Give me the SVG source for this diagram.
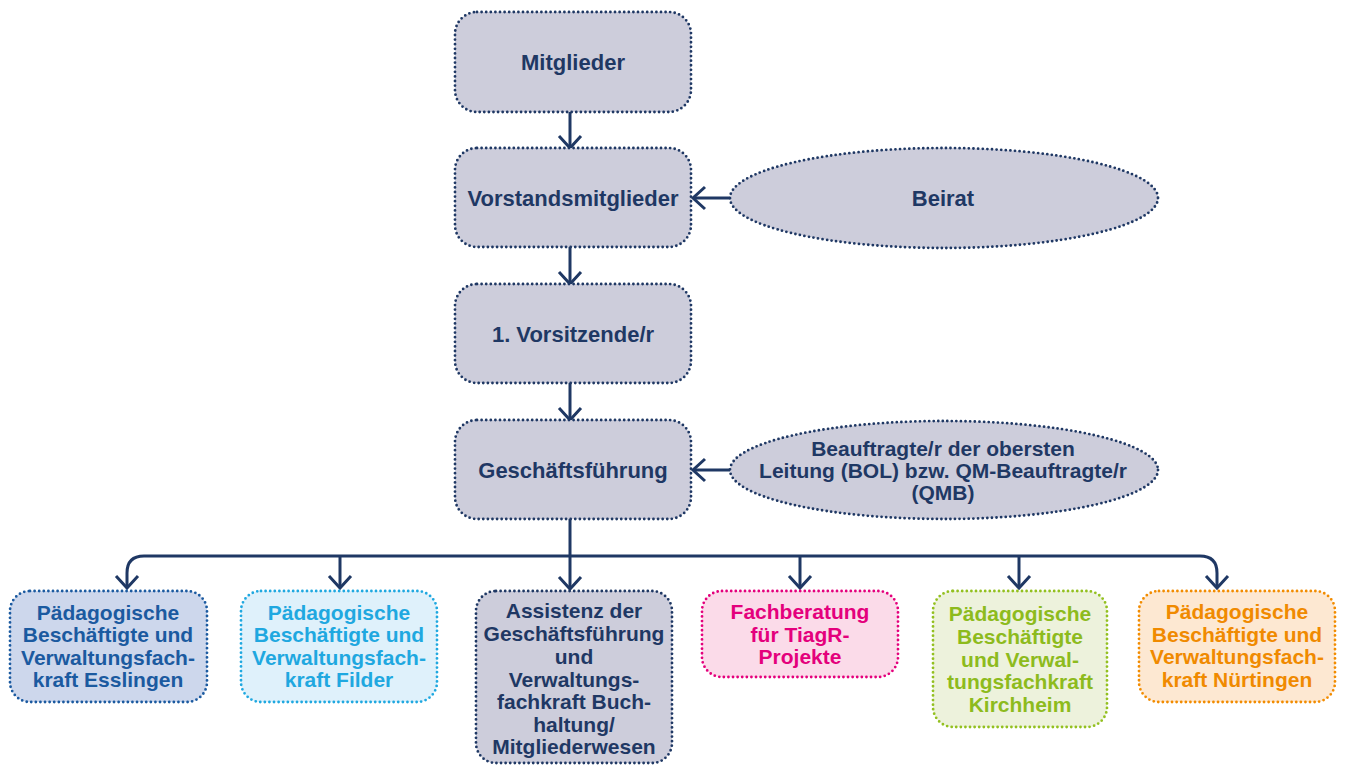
<svg xmlns="http://www.w3.org/2000/svg" width="1347" height="765" viewBox="0 0 1347 765">
<style>
text{font-family:"Liberation Sans",Arial,sans-serif;font-weight:bold;font-size:21px;text-anchor:middle}
.dot{stroke-width:2.8;stroke-dasharray:0 4.6;stroke-linecap:round}
.top{fill:#cdcddb;stroke:#1f3864}
.top-t{fill:#1f3864}
.big{font-size:22px}
.conn{fill:none;stroke:#1f3864;stroke-width:3}
</style>
<defs>
<marker id="arr" markerUnits="userSpaceOnUse" viewBox="-15 -15 30 30" markerWidth="30" markerHeight="30" refX="0" refY="0" orient="auto" overflow="visible">
<path d="M-12,-11 L0,0 L-12,11" fill="none" stroke="#1f3864" stroke-width="3" stroke-linejoin="miter"/>
</marker>
</defs>
<g id="connectors" class="conn">
<path d="M570,112 V148" marker-end="url(#arr)"/>
<path d="M570,247 V284" marker-end="url(#arr)"/>
<path d="M570,383 V420" marker-end="url(#arr)"/>
<path d="M730,198 H693" marker-end="url(#arr)"/>
<path d="M730,470 H693" marker-end="url(#arr)"/>
<path d="M570,519 V589" marker-end="url(#arr)"/>
<path d="M570,556 H144 Q127,556 127,573 V588" marker-end="url(#arr)"/>
<path d="M570,556 H1200 Q1217,556 1217,573 V588" marker-end="url(#arr)"/>
<path d="M340,556 V588" marker-end="url(#arr)"/>
<path d="M800,556 V588" marker-end="url(#arr)"/>
<path d="M1019,556 V588" marker-end="url(#arr)"/>
</g>
<g id="mitglieder">
<rect class="top dot" x="455" y="12" width="236" height="100" rx="22"/>
<text class="top-t big" x="573" y="70">Mitglieder</text>
</g>
<g id="vorstand">
<rect class="top dot" x="455" y="148" width="236" height="99" rx="22"/>
<text class="top-t big" x="573" y="206">Vorstandsmitglieder</text>
</g>
<g id="beirat">
<ellipse class="top dot" cx="944" cy="198" rx="214" ry="50"/>
<text class="top-t big" x="943" y="206">Beirat</text>
</g>
<g id="vorsitzende">
<rect class="top dot" x="455" y="284" width="236" height="99" rx="22"/>
<text class="top-t big" x="573" y="342">1. Vorsitzende/r</text>
</g>
<g id="gf">
<rect class="top dot" x="455" y="420" width="236" height="99" rx="22"/>
<text class="top-t big" x="573" y="478">Geschäftsführung</text>
</g>
<g id="bol">
<ellipse class="top dot" cx="944" cy="470" rx="214" ry="49"/>
<text class="top-t" x="943" y="456">Beauftragte/r der obersten</text>
<text class="top-t" x="943" y="478">Leitung (BOL) bzw. QM-Beauftragte/r</text>
<text class="top-t" x="943" y="500">(QMB)</text>
</g>
<g id="esslingen">
<rect class="dot" x="10" y="591" width="197" height="111" rx="20" fill="#cdd7ec" stroke="#1b5aa0"/>
<g fill="#1b5aa0">
<text x="108" y="620">Pädagogische</text>
<text x="108" y="642">Beschäftigte und</text>
<text x="108" y="665">Verwaltungsfach-</text>
<text x="108" y="687">kraft Esslingen</text>
</g>
</g>
<g id="filder">
<rect class="dot" x="241" y="591" width="196" height="111" rx="20" fill="#dff1fb" stroke="#1fa8e0"/>
<g fill="#1fa8e0">
<text x="339" y="620">Pädagogische</text>
<text x="339" y="642">Beschäftigte und</text>
<text x="339" y="665">Verwaltungsfach-</text>
<text x="339" y="687">kraft Filder</text>
</g>
</g>
<g id="assistenz">
<rect class="top dot" x="476" y="591" width="196" height="172" rx="20"/>
<g class="top-t">
<text x="574" y="618">Assistenz der</text>
<text x="574" y="641">Geschäftsführung</text>
<text x="574" y="664">und</text>
<text x="574" y="687">Verwaltungs-</text>
<text x="574" y="709">fachkraft Buch-</text>
<text x="574" y="732">haltung/</text>
<text x="574" y="754">Mitgliederwesen</text>
</g>
</g>
<g id="fachberatung">
<rect class="dot" x="702" y="591" width="196" height="86" rx="20" fill="#fbdbe9" stroke="#e4007c"/>
<g fill="#e4007c">
<text x="800" y="619">Fachberatung</text>
<text x="800" y="642">für TiagR-</text>
<text x="800" y="664">Projekte</text>
</g>
</g>
<g id="kirchheim">
<rect class="dot" x="933" y="591" width="174" height="136" rx="20" fill="#edf2dc" stroke="#93c01f"/>
<g fill="#8dbb1d">
<text x="1020" y="621">Pädagogische</text>
<text x="1020" y="644">Beschäftigte</text>
<text x="1020" y="667">und Verwal-</text>
<text x="1020" y="689">tungsfachkraft</text>
<text x="1020" y="712">Kirchheim</text>
</g>
</g>
<g id="nuertingen">
<rect class="dot" x="1139" y="591" width="196" height="111" rx="20" fill="#fde8d2" stroke="#f28c00"/>
<g fill="#f08a00">
<text x="1237" y="619">Pädagogische</text>
<text x="1237" y="642">Beschäftigte und</text>
<text x="1237" y="664">Verwaltungsfach-</text>
<text x="1237" y="687">kraft Nürtingen</text>
</g>
</g>
</svg>
